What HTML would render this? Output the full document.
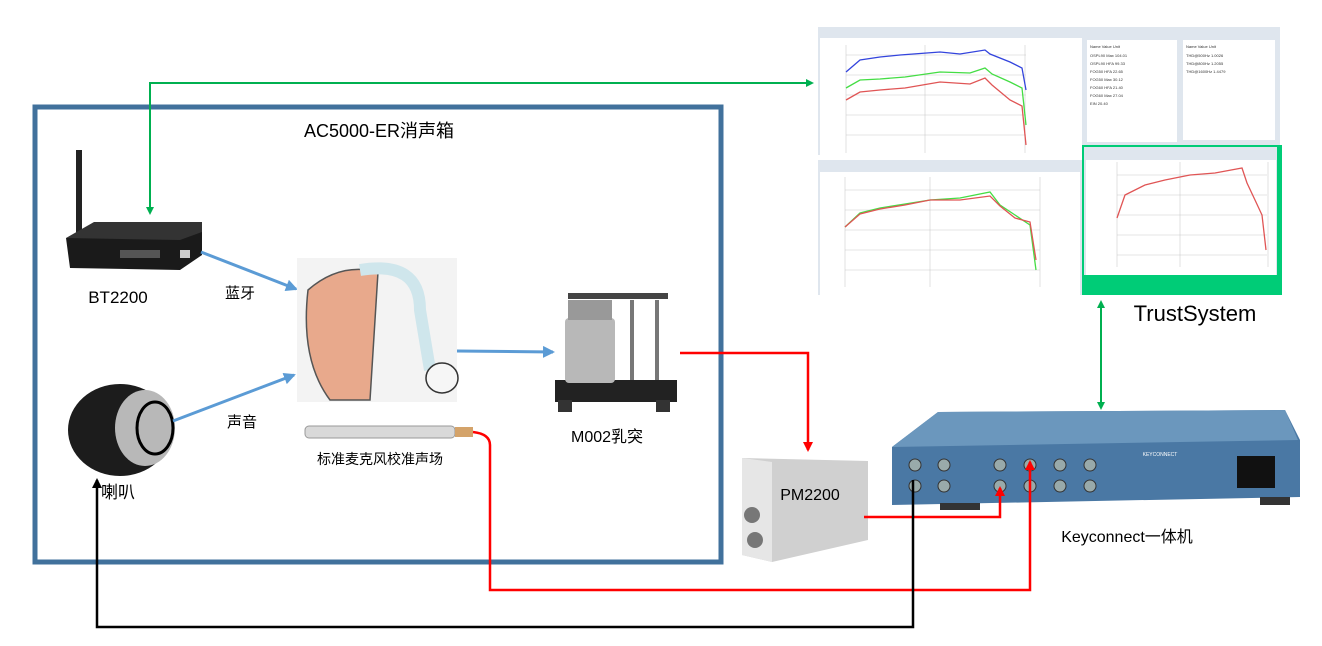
<!DOCTYPE html>
<html><head><meta charset="utf-8"><style>
html,body{margin:0;padding:0;background:#fff}
svg{display:block}
text{font-family:"Liberation Sans","Noto Sans CJK SC",sans-serif}
</style></head><body>
<svg width="1322" height="646" viewBox="0 0 1322 646" xmlns="http://www.w3.org/2000/svg">
<defs>
<marker id="ag" markerWidth="8" markerHeight="8" refX="6" refY="4" orient="auto" markerUnits="userSpaceOnUse"><path d="M0,0 L8,4 L0,8z" fill="#00b050"/></marker>
<marker id="ar" markerWidth="10" markerHeight="10" refX="8" refY="5" orient="auto" markerUnits="userSpaceOnUse"><path d="M0,0 L10,5 L0,10z" fill="#ff0000"/></marker>
<marker id="ak" markerWidth="10" markerHeight="10" refX="8" refY="5" orient="auto" markerUnits="userSpaceOnUse"><path d="M0,0 L10,5 L0,10z" fill="#000"/></marker>
<marker id="ab" markerWidth="12" markerHeight="12" refX="10" refY="6" orient="auto" markerUnits="userSpaceOnUse"><path d="M0,0 L12,6 L0,12z" fill="#5b9bd5"/></marker>
</defs>

<!-- Screenshot area -->
<rect x="818" y="27" width="266" height="128" fill="#dfe6ee"/>
<rect x="820" y="38" width="262" height="117" fill="#fff"/>
<rect x="1084" y="27" width="96" height="118" fill="#dfe6ee"/>
<rect x="1087" y="40" width="90" height="102" fill="#fff"/>
<rect x="1180" y="27" width="100" height="118" fill="#dfe6ee"/>
<rect x="1183" y="40" width="92" height="100" fill="#fff"/>
<g font-size="4" fill="#333"><text x="1090" y="48">Name    Value   Unit</text><text x="1090" y="57">OSPL90 Max 104.01</text><text x="1090" y="65">OSPL90 HFA 99.33</text><text x="1090" y="73">FOG50 HFA 22.65</text><text x="1090" y="81">FOG50 Max 30.12</text><text x="1090" y="89">FOG60 HFA 21.40</text><text x="1090" y="97">FOG60 Max 27.04</text><text x="1090" y="105">EIN 20.40</text>
<text x="1186" y="48">Name  Value  Unit</text><text x="1186" y="57">THD@500Hz 1.0026</text><text x="1186" y="65">THD@800Hz 1.2055</text><text x="1186" y="73">THD@1600Hz 1.4479</text></g>
<rect x="818" y="160" width="264" height="135" fill="#dfe6ee"/>
<rect x="820" y="172" width="260" height="123" fill="#fff"/>
<rect x="1082" y="145" width="200" height="150" fill="#00cc77"/>
<rect x="1084" y="147" width="193" height="128" fill="#dfe6ee"/>
<rect x="1086" y="160" width="190" height="115" fill="#fff"/>
<g stroke="#ccc" stroke-width="0.6">
<path d="M846,45v108M925,45v108M1025,45v108M846,55h180M846,75h180M846,95h180M846,115h180M846,135h180"/>
<path d="M845,177v110M930,177v110M1040,177v110M845,190h195M845,210h195M845,230h195M845,250h195M845,270h195"/>
<path d="M1117,162v105M1180,162v105M1268,162v105M1117,175h150M1117,195h150M1117,215h150M1117,235h150M1117,255h150"/>
</g>
<g fill="none" stroke-width="1.3">
<path d="M846,72 L860,60 L880,57 L900,55 L940,52 L960,54 L985,50 L990,54 L1010,62 L1022,68 L1026,90" stroke="#3344dd"/>
<path d="M846,88 L860,80 L880,79 L905,77 L940,72 L970,73 L985,68 L992,74 L1010,82 L1022,88 L1026,125" stroke="#44dd44"/>
<path d="M846,100 L860,92 L880,90 L905,88 L940,82 L970,84 L985,78 L992,85 L1010,100 L1022,106 L1026,145" stroke="#e05555"/>
<path d="M845,227 L860,213 L880,208 L905,204 L930,200 L960,198 L990,192 L1000,205 L1015,215 L1030,225 L1036,270" stroke="#44dd44"/>
<path d="M845,227 L860,214 L880,209 L905,205 L930,200 L960,200 L990,196 L1000,206 L1015,218 L1030,222 L1036,260" stroke="#e05555"/>
<path d="M1117,218 L1125,195 L1145,185 L1165,180 L1190,175 L1215,173 L1242,168 L1247,183 L1255,200 L1262,215 L1266,250" stroke="#e05555"/>
</g>

<!-- Blue box -->
<rect x="35" y="107" width="686" height="455" fill="none" stroke="#41719c" stroke-width="5"/>
<text x="379" y="137" font-size="18" text-anchor="middle" fill="#000">AC5000-ER消声箱</text>

<!-- green connector -->
<path d="M150,213 V83 H812" fill="none" stroke="#00b050" stroke-width="2" marker-end="url(#ag)"/>
<path d="M150,100 V213" fill="none" stroke="#00b050" stroke-width="2" marker-end="url(#ag)"/>
<path d="M1101,305 V408" fill="none" stroke="#00b050" stroke-width="2" marker-end="url(#ag)"/>
<path d="M1101,400 V302" fill="none" stroke="#00b050" stroke-width="2" marker-end="url(#ag)"/>

<!-- Router -->
<rect x="76" y="150" width="6" height="95" fill="#222"/>
<path d="M66,238 L180,238 L202,230 L202,255 L180,270 L70,268z" fill="#1a1a1a"/>
<path d="M66,238 L94,222 L202,222 L202,232 L180,240z" fill="#333"/>
<rect x="120" y="250" width="40" height="8" fill="#555"/>
<rect x="180" y="250" width="10" height="8" fill="#ccc"/>
<text x="118" y="303" font-size="17" text-anchor="middle">BT2200</text>

<!-- speaker -->
<ellipse cx="120" cy="430" rx="52" ry="46" fill="#1c1c1c"/>
<ellipse cx="145" cy="428" rx="30" ry="38" fill="#b8b8b8"/>
<ellipse cx="155" cy="428" rx="18" ry="26" fill="none" stroke="#000" stroke-width="3"/>
<text x="118" y="498" font-size="17" text-anchor="middle">喇叭</text>

<!-- blue arrows -->
<path d="M201,252 L296,289" stroke="#5b9bd5" stroke-width="3" marker-end="url(#ab)"/>
<text x="240" y="298" font-size="15" text-anchor="middle">蓝牙</text>
<path d="M173,421 L294,375" stroke="#5b9bd5" stroke-width="3" marker-end="url(#ab)"/>
<text x="242" y="427" font-size="15" text-anchor="middle">声音</text>
<path d="M457,351 L553,352" stroke="#5b9bd5" stroke-width="3" marker-end="url(#ab)"/>

<!-- hearing aid -->
<rect x="297" y="258" width="160" height="144" fill="#f3f3f3"/>
<path d="M308,290 Q340,262 378,272 L370,400 L330,400 Q300,360 308,290z" fill="#e8a98c" stroke="#555" stroke-width="1.5"/>
<path d="M360,270 Q420,260 420,310 L430,370" fill="none" stroke="#cfe6ec" stroke-width="12"/>
<ellipse cx="442" cy="378" rx="16" ry="15" fill="#f6f6f6" stroke="#333" stroke-width="1.5"/>

<!-- mic -->
<rect x="305" y="426" width="150" height="12" rx="4" fill="#d9d9d9" stroke="#999"/>
<rect x="455" y="427" width="18" height="10" fill="#d4a36a"/>
<text x="380" y="464" font-size="14" text-anchor="middle">标准麦克风校准声场</text>

<!-- ear simulator -->
<rect x="555" y="380" width="122" height="22" fill="#222"/>
<rect x="565" y="318" width="50" height="65" rx="4" fill="#b8b8b8"/>
<rect x="568" y="300" width="44" height="20" fill="#999"/>
<rect x="568" y="293" width="100" height="6" fill="#444"/>
<rect x="630" y="300" width="4" height="80" fill="#777"/>
<rect x="655" y="300" width="4" height="80" fill="#777"/>
<rect x="558" y="400" width="14" height="12" fill="#333"/><rect x="656" y="400" width="14" height="12" fill="#333"/>
<text x="607" y="442" font-size="16" text-anchor="middle">M002乳突</text>

<!-- PM2200 -->
<path d="M742,458 L868,461 L868,540 L772,562 L742,555z" fill="#d0d0d0"/>
<path d="M742,458 L772,462 L772,562 L742,555z" fill="#e6e6e6"/>
<circle cx="752" cy="515" r="8" fill="#777"/><circle cx="755" cy="540" r="8" fill="#777"/>
<text x="810" y="500" font-size="16" text-anchor="middle">PM2200</text>

<!-- Keyconnect -->
<path d="M892,447 L938,412 L1285,410 L1300,440 L1300,497 L892,505z" fill="#4a78a4"/>
<path d="M892,447 L938,412 L1285,410 L1298,440z" fill="#6b97bd"/>
<rect x="1260" y="497" width="30" height="8" fill="#333"/><rect x="940" y="503" width="40" height="7" fill="#333"/>
<g fill="#9aa" stroke="#333" stroke-width="1">
<circle cx="915" cy="465" r="6"/><circle cx="944" cy="465" r="6"/><circle cx="915" cy="486" r="6"/><circle cx="944" cy="486" r="6"/>
<circle cx="1000" cy="465" r="6"/><circle cx="1030" cy="465" r="6"/><circle cx="1060" cy="465" r="6"/><circle cx="1090" cy="465" r="6"/>
<circle cx="1000" cy="486" r="6"/><circle cx="1030" cy="486" r="6"/><circle cx="1060" cy="486" r="6"/><circle cx="1090" cy="486" r="6"/>
</g>
<rect x="1237" y="456" width="38" height="32" fill="#111"/>
<text x="1160" y="456" font-size="5" fill="#fff" text-anchor="middle">KEYCONNECT</text>
<text x="1127" y="542" font-size="16" text-anchor="middle">Keyconnect一体机</text>

<!-- red lines -->
<path d="M680,353 H808 V450" fill="none" stroke="#ff0000" stroke-width="2.5" marker-end="url(#ar)"/>
<path d="M473,432 Q490,434 490,445 V590 H1030 V462" fill="none" stroke="#ff0000" stroke-width="2.5" marker-end="url(#ar)"/>
<path d="M864,517 H1000 V488" fill="none" stroke="#ff0000" stroke-width="2.5" marker-end="url(#ar)"/>

<!-- black line -->
<path d="M913,480 V627 H97 V480" fill="none" stroke="#000" stroke-width="2.5" marker-end="url(#ak)"/>

<text x="1195" y="321" font-size="22" text-anchor="middle">TrustSystem</text>
</svg>
</body></html>
